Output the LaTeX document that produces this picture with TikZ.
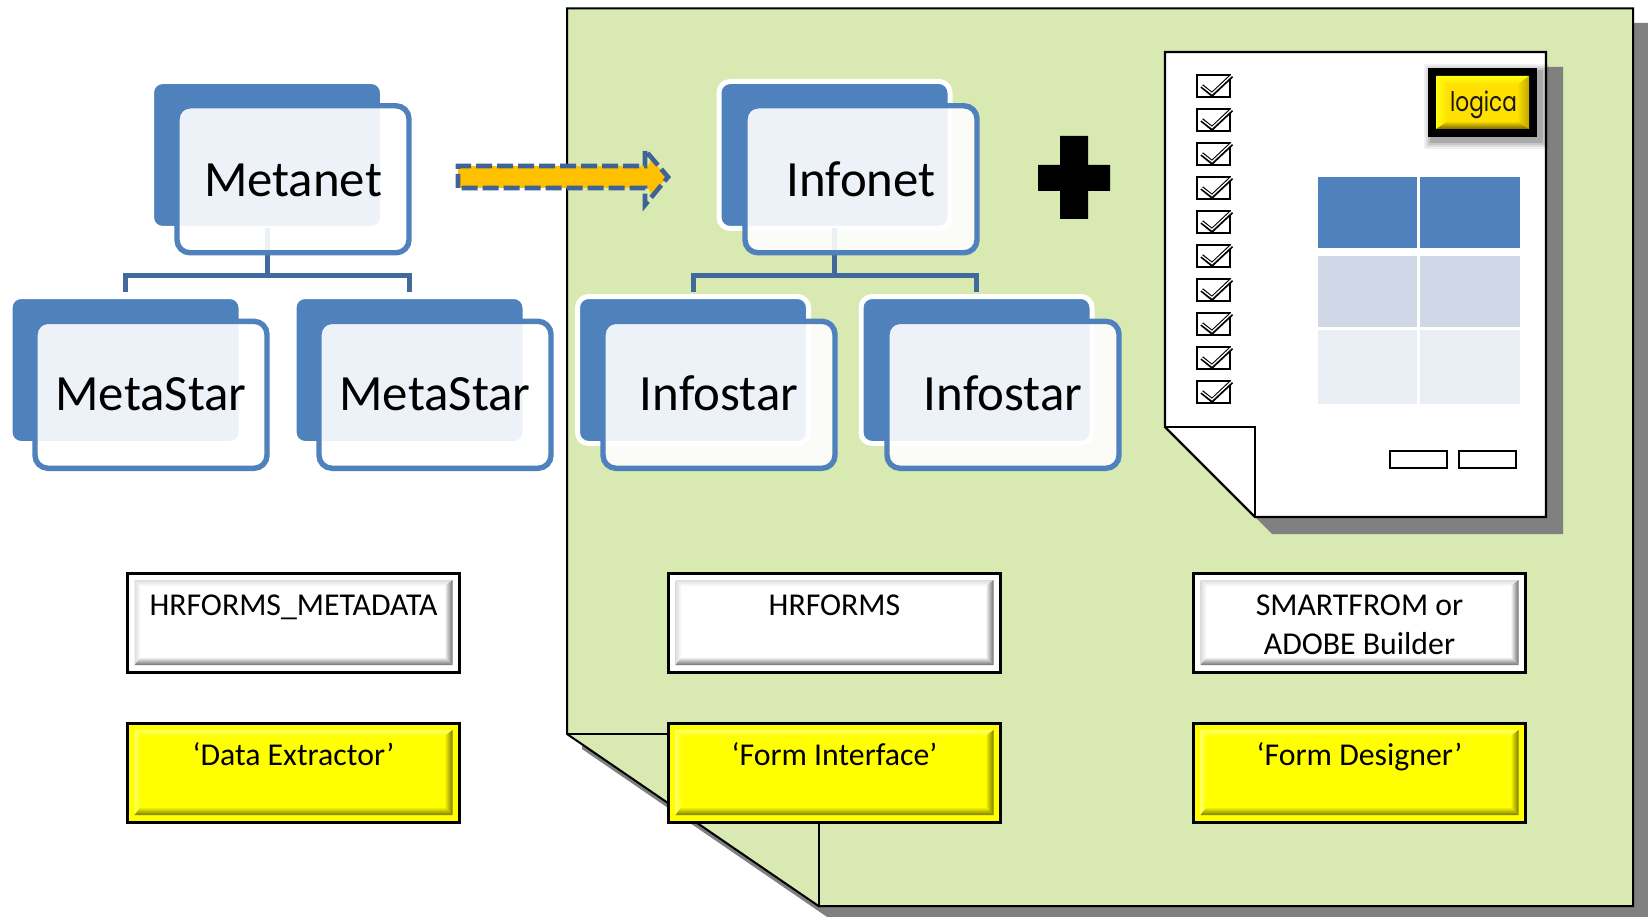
\documentclass[tikz,border=0pt]{standalone}
\usepackage{fontspec}
\usepackage{graphicx}
\setmainfont{Carlito}
\newfontfamily\logofont{Poppins}
\definecolor{sheetgreen}{HTML}{D8E9B2}
\definecolor{shadowgray}{HTML}{808080}
\definecolor{smartblue}{HTML}{4F81BD}
\definecolor{connblue}{HTML}{41699B}
\definecolor{arrowdash}{HTML}{3F6396}
\definecolor{arrowfill}{HTML}{FFC000}
\definecolor{cellmid}{HTML}{D0D8E8}
\definecolor{celllight}{HTML}{E9EDF4}
\definecolor{btnyellow}{HTML}{FFFF00}
\definecolor{btnyellowlight}{HTML}{FFFF66}
\definecolor{btnyellowdark}{HTML}{7A7A00}
\definecolor{btngraylight}{HTML}{DCDCDC}
\definecolor{btngraydark}{HTML}{707070}
\definecolor{logoface}{HTML}{FFE000}
\definecolor{logotop}{HTML}{FFFF10}
\definecolor{logodark}{HTML}{7A6600}
\tikzset{
  x=1pt,y=-1pt,
  sheetline/.style={draw=black,line width=2pt,line join=miter},
  foldline/.style={draw=black,line width=2pt},
  backbox/.style={rectangle,rounded corners=11pt,draw=white,line width=5pt,fill=smartblue,minimum width=231pt,minimum height=147pt,inner sep=0pt,outer sep=0pt},
  frontbox/.style={rectangle,rounded corners=13pt,draw=smartblue,line width=5.4pt,fill=white,fill opacity=0.9,draw opacity=1,text opacity=1,minimum width=232pt,minimum height=147pt,inner sep=0pt,outer sep=0pt,text height=34pt,text depth=3pt,font=\fontsize{50.8pt}{58pt}\selectfont},
  topfront/.style={frontbox,text height=34pt,text depth=0pt},
  conn/.style={draw=connblue,line width=5pt,line join=miter},
  btnbox/.style={rectangle,anchor=north west,draw=black,line width=3pt,inner sep=0pt,outer sep=0pt},
  docline/.style={draw=black,line width=2.4pt},
  smallbtn/.style={rectangle,anchor=north west,draw=black,line width=2.2pt,fill=white,minimum width=57pt,minimum height=17pt,inner sep=0pt},
  cell/.style={rectangle,anchor=north west,minimum width=99.5pt,inner sep=0pt,outer sep=0pt},
}
% name, x, y, face, light, dark, text
\newcommand{\bevelbtn}[7]{%
  \begin{scope}[shift={(#2,#3)}]
    \node[btnbox,fill=#4] (#1) at (0,0) {\parbox[c][99pt][t]{332pt}{\centering\fontsize{31.8pt}{39pt}\selectfont\vspace*{15pt}\strut #7\strut\par}};
    \path[shade,top color=#5,bottom color=#4] (7,7) -- (325,7) -- (317,13) -- (13,13) -- cycle;
    \path[shade,left color=#5,right color=#4] (7,7) -- (13,13) -- (13,84) -- (7,92) -- cycle;
    \path[shade,left color=#4,right color=#6] (317,13) -- (325,7) -- (325,92) -- (317,84) -- cycle;
    \path[shade,top color=#4,bottom color=#6] (13,84) -- (317,84) -- (325,92) -- (7,92) -- cycle;
  \end{scope}}
\begin{document}
\begin{tikzpicture}
\useasboundingbox (0,0) rectangle (1648,917);
\fill[white] (0,0) rectangle (1648,917);
% sheet
\begin{scope}
\clip (0,0) rectangle (1648,917);
\fill[shadowgray] (582,749) -- (582,23) -- (1648,23) -- (1648,921) -- (833,921) -- cycle;
\end{scope}
\path[sheetline,fill=sheetgreen] (567,8.5) -- (1633,8.5) -- (1633,906) -- (818.5,906) -- (567,734) -- cycle;
\draw[foldline] (567,734) -- (818.5,734) -- (818.5,906);
% arrow
\fill[arrowfill] (458,166) -- (648,166) -- (651,160) -- (668,177) -- (651,194) -- (648,188) -- (458,188) -- cycle;
\draw[draw=arrowdash,line width=4.6pt,dash pattern=on 16pt off 5pt,dash phase=2pt,line join=miter,miter limit=10]
  (458,188) -- (458,166) -- (645,166) -- (645,150) -- (668,177) -- (645,205) -- (645,188) -- cycle;
% org charts: back plates
\node[backbox] (mb) at (267,155) {};
\node[backbox] (ms1b) at (125.5,370) {};
\node[backbox] (ms2b) at (409.5,370) {};
\node[backbox] (ib) at (834.5,155) {};
\node[backbox] (is1b) at (693,370) {};
\node[backbox] (is2b) at (976.5,370) {};
% connectors
\draw[conn,shorten >=4.5pt] (mb.south) -- ++(0,46.5) coordinate (mbus) -| (ms1b.north);
\draw[conn,shorten >=4.5pt] (mbus) -| (ms2b.north);
\draw[conn,shorten >=4.5pt] (ib.south) -- ++(0,46.5) coordinate (ibus) -| (is1b.north);
\draw[conn,shorten >=4.5pt] (ibus) -| (is2b.north);
% front plates
\node[topfront] (m) at (293,179.3) {Metanet};
\node[frontbox] (ms1) at (151,394.8) {MetaStar};
\node[frontbox] (ms2) at (435,394.8) {MetaStar};
\node[topfront] (i) at (861,179.3) {Infonet};
\node[frontbox] (is1) at (719,394.8) {Infostar};
\node[frontbox] (is2) at (1003,394.8) {Infostar};
% plus
\fill[black] (1060,136) -- (1088,136) -- (1088,165) -- (1110,165) -- (1110,191) -- (1088,191) -- (1088,219) -- (1060,219) -- (1060,191) -- (1038,191) -- (1038,165) -- (1060,165) -- cycle;
% document
\fill[shadowgray] (1182,67) -- (1563,67) -- (1563,534) -- (1272,534) -- (1182,444) -- cycle;
\path[docline,fill=white] (1165,52) -- (1546,52) -- (1546,517) -- (1255,517) -- (1165,427) -- cycle;
\draw[docline] (1165,427) -- (1255,427) -- (1255,517);
\foreach \i in {0,...,9} {
  \begin{scope}[shift={(1197,75+34*\i)}]
    \draw[black,line width=2.2pt] (0,0) rectangle (33,22);
    \draw[black,line width=4.2pt,line join=miter] (4.7,11) -- (15,19.3) -- (34.7,0.7);
    \draw[white,line width=1.3pt,line join=miter] (4.2,10.4) -- (15,18.7) -- (35,0);
  \end{scope}
}
% table
\node[cell,fill=smartblue,minimum height=71pt] (c11) at (1317.5,177) {};
\node[cell,fill=smartblue,minimum height=71pt] (c12) at (1420,177) {};
\node[cell,fill=cellmid,minimum height=71pt] (c21) at (1317.5,256) {};
\node[cell,fill=cellmid,minimum height=71pt] (c22) at (1420,256) {};
\node[cell,fill=celllight,minimum height=74pt] (c31) at (1317.5,330) {};
\node[cell,fill=celllight,minimum height=74pt] (c32) at (1420,330) {};
\node[smallbtn] (b1) at (1389,449.5) {};
\node[smallbtn] (b2) at (1458,449.5) {};
% logo
\foreach \s/\o in {8/.06,6/.08,4/.1,2/.14} {
  \fill[black,opacity=\o] (1432-\s,72-\s) rectangle (1541+\s,141+\s);
}
\fill[black] (1428,68) rectangle (1537,137);
\fill[logoface] (1436,76) rectangle (1529,129);
\path[shade,top color=logotop,bottom color=logoface] (1436,76) -- (1529,76) -- (1517,85) -- (1448,85) -- cycle;
\path[shade,left color=logotop,right color=logoface] (1436,76) -- (1448,85) -- (1448,121) -- (1436,129) -- cycle;
\path[shade,left color=logoface,right color=logoface!75!black] (1517,85) -- (1529,76) -- (1529,129) -- (1517,121) -- cycle;
\path[shade,top color=logoface,bottom color=logodark] (1448,121) -- (1517,121) -- (1529,129) -- (1436,129) -- cycle;
\node[anchor=base,inner sep=0pt,font=\logofont\fontsize{27pt}{27pt}\selectfont,text=black!90] (logo) at (1483.5,112) {\scalebox{.8}[1]{logica}};
% buttons
\bevelbtn{bm}{127.5}{573}{white}{btngraylight}{btngraydark}{HRFORMS\_METADATA}
\bevelbtn{bh}{668.5}{573}{white}{btngraylight}{btngraydark}{HRFORMS}
\bevelbtn{bs}{1193.5}{573}{white}{btngraylight}{btngraydark}{SMARTFROM or\\ADOBE Builder}
\bevelbtn{yd}{127.5}{723}{btnyellow}{btnyellowlight}{btnyellowdark}{‘Data Extractor’}
\bevelbtn{yf}{668.5}{723}{btnyellow}{btnyellowlight}{btnyellowdark}{‘Form Interface’}
\bevelbtn{yg}{1193.5}{723}{btnyellow}{btnyellowlight}{btnyellowdark}{‘Form Designer’}
\end{tikzpicture}
\end{document}
